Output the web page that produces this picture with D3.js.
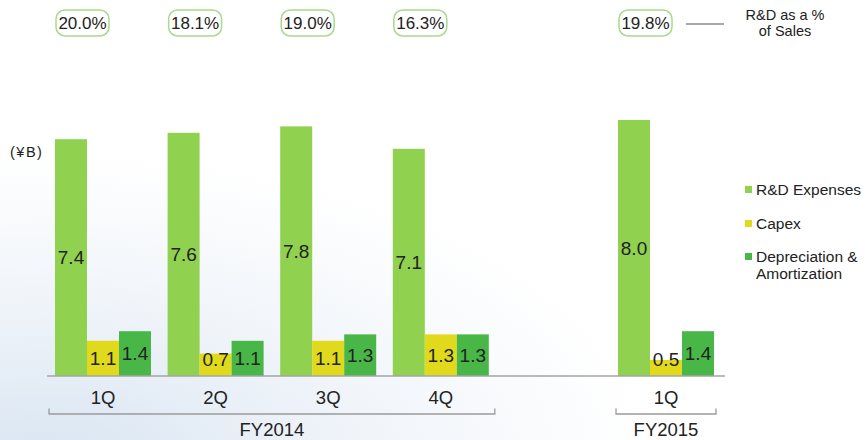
<!DOCTYPE html>
<html>
<head>
<meta charset="utf-8">
<script src="https://cdn.jsdelivr.net/npm/d3@7"></script>
<style>
  body { margin: 0; background: #fff; }
  svg text { font-family: "Liberation Sans", Arial, sans-serif; fill: #222; }
</style>
</head>
<body>
<div id="chart"></div>
<script>
// data
var quarters = ["1Q", "2Q", "3Q", "4Q", "1Q"];
var fiscalYears = ["FY2014", "FY2014", "FY2014", "FY2014", "FY2015"];
var rdExpenses = [7.4, 7.6, 7.8, 7.1, 8.0];
var capex = [1.1, 0.7, 1.1, 1.3, 0.5];
var depreciation = [1.4, 1.1, 1.3, 1.3, 1.4];
var rdPctSales = ["20.0%", "18.1%", "19.0%", "16.3%", "19.8%"];
var seriesNames = ["R&D Expenses", "Capex", "Depreciation & Amortization"];

var svgWidth = 868;
var svgHeight = 440;
var baseY = 376;

var svg = d3.select("#chart")
  .append("svg")
  .attr("width", svgWidth)
  .attr("height", svgHeight);

// soft bluish background wash
var defs = svg.append("defs");
var grad = defs.append("radialGradient")
  .attr("id", "wash")
  .attr("cx", 0.05).attr("cy", 1.05).attr("r", 0.7);
grad.append("stop").attr("offset", "0%").attr("stop-color", "#d9e5f2");
grad.append("stop").attr("offset", "55%").attr("stop-color", "#f1f5fa");
grad.append("stop").attr("offset", "100%").attr("stop-color", "#ffffff");
svg.append("rect")
  .attr("width", svgWidth).attr("height", svgHeight)
  .attr("fill", "url(#wash)");

// one slot per quarter plus an empty slot between the years
var slots = quarters.map(function(q, i) { return fiscalYears[i] + " " + q; });
var slotDomain = slots.slice(0, 4).concat(["gap"], slots.slice(4));

var x0 = d3.scaleBand()
  .domain(slotDomain)
  .range([55, 55 + 6 * 112.6]);

var x1 = d3.scaleBand()
  .domain(seriesNames)
  .range([0, 96]);

var y = d3.scaleLinear()
  .domain([0, 8])
  .range([baseY, 120]);

var color = d3.scaleOrdinal()
  .domain(seriesNames)
  .range(["#90d150", "#e1d91c", "#48b747"]);

var rows = slots.map(function(s, i) {
  return {
    slot: s,
    values: [
      { name: seriesNames[0], value: rdExpenses[i] },
      { name: seriesNames[1], value: capex[i] },
      { name: seriesNames[2], value: depreciation[i] }
    ]
  };
});

var groups = svg.selectAll(".grp")
  .data(rows)
  .enter()
  .append("g")
  .attr("class", "grp")
  .attr("transform", function(d) { return "translate(" + x0(d.slot) + ",0)"; });

groups.selectAll("rect")
  .data(function(d) { return d.values; })
  .enter()
  .append("rect")
  .attr("x", function(d) { return x1(d.name); })
  .attr("width", x1.bandwidth())
  .attr("y", function(d) { return y(d.value); })
  .attr("height", function(d) { return baseY - y(d.value); })
  .attr("fill", function(d) { return color(d.name); });

// value labels
groups.selectAll(".val")
  .data(function(d) { return d.values; })
  .enter()
  .append("text")
  .attr("class", "val")
  .attr("x", function(d) { return x1(d.name) + x1.bandwidth() / 2; })
  .attr("y", function(d) { return Math.min((y(d.value) + baseY) / 2, baseY - 16.5); })
  .attr("dy", "0.36em")
  .attr("text-anchor", "middle")
  .style("font-size", "19px")
  .text(function(d) { return d.value.toFixed(1); });

// baseline
svg.append("line")
  .attr("x1", 47).attr("x2", 725)
  .attr("y1", baseY).attr("y2", baseY)
  .attr("stroke", "#a5a5a5").attr("stroke-width", 1.5);

// quarter labels
svg.selectAll(".qlab")
  .data(slots)
  .enter()
  .append("text")
  .attr("class", "qlab")
  .attr("x", function(d) { return x0(d) + 48; })
  .attr("y", 397)
  .attr("dy", "0.36em")
  .attr("text-anchor", "middle")
  .style("font-size", "18.5px")
  .text(function(d, i) { return quarters[i]; });

// fiscal year brackets
var years = Array.from(new Set(fiscalYears));
years.forEach(function(fy) {
  var mine = slots.filter(function(s, i) { return fiscalYears[i] === fy; });
  var pad = mine.length > 1 ? 6 : 2;
  var left = x0(mine[0]) - pad;
  var right = x0(mine[mine.length - 1]) + 96 + pad;
  svg.append("path")
    .attr("d", "M" + left + ",408.5V414H" + right + "V408.5")
    .attr("fill", "none")
    .attr("stroke", "#9a9a9a")
    .attr("stroke-width", 1.3);
  svg.append("text")
    .attr("x", (left + right) / 2)
    .attr("y", 429)
    .attr("dy", "0.36em")
    .attr("text-anchor", "middle")
    .style("font-size", "18.5px")
    .text(fy);
});

// R&D as % of sales boxes
var pct = svg.selectAll(".pct")
  .data(rdPctSales)
  .enter()
  .append("g")
  .attr("class", "pct")
  .attr("transform", function(d, i) { return "translate(" + (x0(slots[i]) + 1) + ",10)"; });

pct.append("rect")
  .attr("width", 53).attr("height", 26)
  .attr("rx", 9).attr("ry", 9)
  .attr("fill", "#fff")
  .attr("stroke", "#a9d98c")
  .attr("stroke-width", 1.5);

pct.append("text")
  .attr("x", 26.5).attr("y", 13)
  .attr("dy", "0.36em")
  .attr("text-anchor", "middle")
  .style("font-size", "17px")
  .text(function(d) { return d; });

// legend for the % line
svg.append("line")
  .attr("x1", 686).attr("x2", 724)
  .attr("y1", 24).attr("y2", 24)
  .attr("stroke", "#a8a8a8").attr("stroke-width", 1.8);

svg.append("text")
  .attr("x", 785).attr("y", 14.5)
  .attr("dy", "0.36em")
  .attr("text-anchor", "middle")
  .style("font-size", "14.5px")
  .text("R&D as a %");
svg.append("text")
  .attr("x", 785).attr("y", 30.5)
  .attr("dy", "0.36em")
  .attr("text-anchor", "middle")
  .style("font-size", "14.5px")
  .text("of Sales");

// unit label
svg.append("text")
  .attr("x", 10).attr("y", 152)
  .attr("dy", "0.36em")
  .style("font-size", "14.5px")
  .style("letter-spacing", "1.5px")
  .text("(¥B)");

// series legend
var legendY = [189, 223, 256];
var legend = svg.selectAll(".leg")
  .data(seriesNames)
  .enter()
  .append("g")
  .attr("class", "leg")
  .attr("transform", function(d, i) { return "translate(745," + legendY[i] + ")"; });

legend.append("rect")
  .attr("y", -3).attr("width", 7).attr("height", 7)
  .attr("fill", function(d) { return color(d); });

legend.append("text")
  .attr("x", 11)
  .style("font-size", "15.5px")
  .each(function(d) {
    var parts = d === "Depreciation & Amortization" ? ["Depreciation &", "Amortization"] : [d];
    var t = d3.select(this);
    parts.forEach(function(p, k) {
      t.append("tspan")
        .attr("x", 11)
        .attr("dy", k === 0 ? "0.36em" : "1.15em")
        .text(p);
    });
  });
</script>
</body>
</html>
